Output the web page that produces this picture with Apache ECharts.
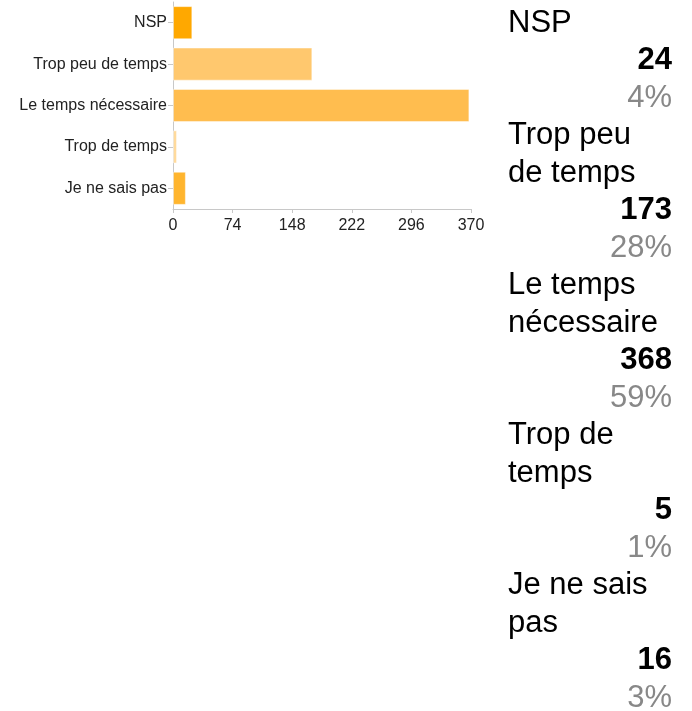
<!DOCTYPE html>
<html>
<head>
<meta charset="utf-8">
<script src="https://cdn.jsdelivr.net/npm/echarts@6/dist/echarts.min.js"></script>
<style>
  html, body { margin: 0; padding: 0; background: #fff; }
  #chart { width: 692px; height: 711px; }
</style>
</head>
<body>
<div id="chart"></div>
<script>
// données
var categories = ["NSP", "Trop peu de temps", "Le temps nécessaire", "Trop de temps", "Je ne sais pas"];
var counts = [24, 173, 368, 5, 16];
var percents = ["4%", "28%", "59%", "1%", "3%"];
var xTicks = [0, 74, 148, 222, 296, 370];

// couleurs des barres
var barColors = ["#FFA800", "#FFC86E", "#FFBD4F", "#FFDA9C", "#FFB52E"];

var FONT = "Arial, 'Liberation Sans', sans-serif";

// coupe un libellé en lignes selon une largeur max
function wrapLabel(text, maxWidth, font) {
  var ctx = document.createElement("canvas").getContext("2d");
  ctx.font = font;
  var words = text.split(" ");
  var lines = [];
  var cur = "";
  words.forEach(function (w) {
    var test = cur ? cur + " " + w : w;
    if (cur && ctx.measureText(test).width > maxWidth) {
      lines.push(cur);
      cur = w;
    } else {
      cur = test;
    }
  });
  if (cur) lines.push(cur);
  return lines;
}

// colonne de droite : libellé, effectif, pourcentage
function buildSideText() {
  var elements = [];
  var lineH = 37.5;
  var y0 = 23;
  var idx = 0;
  var left = 508, right = 672;
  var size = "31px ";
  categories.forEach(function (name, i) {
    wrapLabel(name, 164, size + FONT).forEach(function (ln) {
      elements.push({
        type: "text", x: left, y: y0 + idx * lineH,
        style: { text: ln, font: size + FONT, fill: "#000", align: "left", verticalAlign: "middle" }
      });
      idx++;
    });
    elements.push({
      type: "text", x: right, y: y0 + idx * lineH,
      style: { text: String(counts[i]), font: "bold " + size + FONT, fill: "#000", align: "right", verticalAlign: "middle" }
    });
    idx++;
    elements.push({
      type: "text", x: right, y: y0 + idx * lineH,
      style: { text: percents[i], font: size + FONT, fill: "#888", align: "right", verticalAlign: "middle" }
    });
    idx++;
  });
  return elements;
}

var chart = echarts.init(document.getElementById("chart"), null, { renderer: "canvas" });

chart.setOption({
  animation: false,
  backgroundColor: "#fff",
  grid: { left: 173, top: 2, width: 298, height: 207, containLabel: false },
  xAxis: {
    type: "value",
    min: xTicks[0],
    max: xTicks[xTicks.length - 1],
    interval: xTicks[1] - xTicks[0],
    splitLine: { show: false },
    axisLine: { show: true, lineStyle: { color: "#c8c8c8" } },
    axisTick: { show: true, length: 4, lineStyle: { color: "#c8c8c8" } },
    axisLabel: { color: "#222", fontSize: 16, fontFamily: FONT, margin: 9 }
  },
  yAxis: {
    type: "category",
    inverse: true,
    data: categories,
    axisLine: { show: true, lineStyle: { color: "#c8c8c8" } },
    axisTick: { show: true, length: 5, alignWithLabel: true, lineStyle: { color: "#c8c8c8" } },
    axisLabel: { color: "#222", fontSize: 16, fontFamily: FONT, margin: 6 }
  },
  series: [
    {
      type: "bar",
      barCategoryGap: "20%",
      data: counts.map(function (v, i) {
        return {
          value: v,
          itemStyle: { color: barColors[i], borderColor: "rgba(255,255,255,0.45)", borderWidth: 1 }
        };
      })
    }
  ],
  graphic: buildSideText()
});
</script>
</body>
</html>
